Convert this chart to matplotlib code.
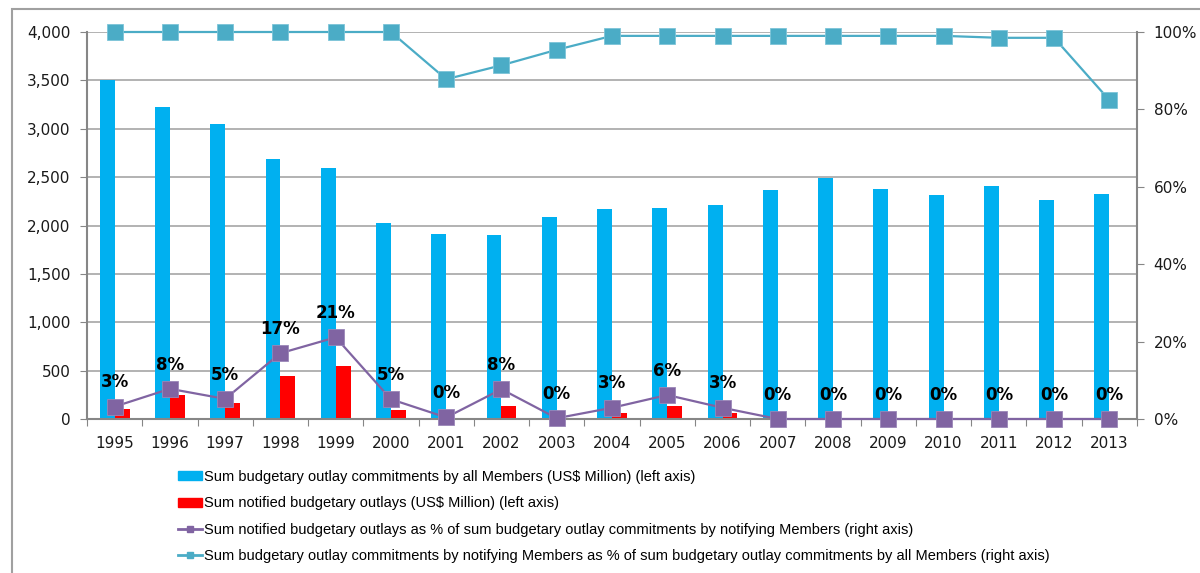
import matplotlib
matplotlib.use("Agg")
import matplotlib.pyplot as plt
import numpy as np
from matplotlib.lines import Line2D
from matplotlib.patches import Patch, Rectangle
from matplotlib.ticker import FuncFormatter, PercentFormatter

years = [str(y) for y in range(1995, 2014)]

# Sum budgetary outlay commitments by all Members (US$ million)
commitments_all = [3500, 3222, 3046, 2684, 2594, 2021, 1907, 1897, 2085, 2175,
                   2181, 2212, 2366, 2490, 2377, 2319, 2407, 2268, 2322]
# Sum notified budgetary outlays (US$ million)
notified_outlays = [100, 248, 162, 448, 545, 96, 0, 131, 0, 62,
                    131, 62, 0, 0, 0, 0, 0, 0, 0]
# Notified outlays as share of commitments by notifying Members
notified_pct = [0.032, 0.078, 0.052, 0.170, 0.211, 0.051, 0.004, 0.077, 0.002, 0.029,
                0.062, 0.029, 0.0, 0.0, 0.0, 0.0, 0.0, 0.0, 0.0]
pct_labels = ["3%", "8%", "5%", "17%", "21%", "5%", "0%", "8%", "0%", "3%",
              "6%", "3%", "0%", "0%", "0%", "0%", "0%", "0%", "0%"]
# Commitments by notifying Members as share of commitments by all Members
notifying_share = [1.0, 1.0, 1.0, 1.0, 1.0, 1.0, 0.878, 0.914, 0.954, 0.990,
                   0.990, 0.990, 0.990, 0.990, 0.990, 0.990, 0.985, 0.985, 0.824]

legend_labels = [
    "Sum budgetary outlay commitments by all Members (US$ Million) (left axis)",
    "Sum notified budgetary outlays (US$ Million) (left axis)",
    "Sum notified budgetary outlays as % of sum budgetary outlay commitments by notifying Members (right axis)",
    "Sum budgetary outlay commitments by notifying Members as % of sum budgetary outlay commitments by all Members (right axis)",
]

BLUE = "#00B0F0"
RED = "#FF0000"
PURPLE = "#8064A2"
TEAL = "#4BACC6"
GRID = "#A6A6A6"
SPINE = "#868686"
TXT = "#1a1a1a"

fig = plt.figure(figsize=(12, 5.73), dpi=100)
ax = fig.add_axes([87 / 1200, 1 - 419 / 573, 1050 / 1200, 387 / 573])
ax2 = ax.twinx()

x = np.arange(len(years))
w = 0.27
ax.bar(x - w / 2, commitments_all, w, color=BLUE, zorder=2)
ax.bar(x + w / 2, notified_outlays, w, color=RED, zorder=2)

ax.set_xlim(-0.5, len(years) - 0.5)
ax.set_ylim(0, 4000)
ax.set_yticks(np.arange(0, 4001, 500))
ax.yaxis.set_major_formatter(FuncFormatter(lambda v, _: f"{v:,.0f}"))
ax.grid(axis="y", color=GRID, lw=1.2, zorder=0)
ax.set_axisbelow(True)

ax.set_xticks(np.arange(-0.5, len(years), 1))
ax.set_xticklabels([])
ax.set_xticks(x, minor=True)
ax.set_xticklabels(years, minor=True)
ax.tick_params(axis="x", which="major", length=5, color=SPINE, direction="out")
ax.tick_params(axis="x", which="minor", length=0, pad=12, labelsize=11, labelcolor=TXT)
ax.tick_params(axis="y", length=5, color=SPINE, pad=7, labelsize=11, labelcolor=TXT)

for s in ["top", "right"]:
    ax.spines[s].set_visible(False)
for s in ["left", "bottom"]:
    ax.spines[s].set_color(SPINE)
    ax.spines[s].set_linewidth(1.5)

ax2.plot(x, notified_pct, color=PURPLE, lw=1.6, marker="s", ms=11,
         mec="#9a86b8", mew=0.6, clip_on=False, zorder=4)
ax2.plot(x, notifying_share, color=TEAL, lw=1.6, marker="s", ms=11,
         mec="#7cc4d8", mew=0.6, clip_on=False, zorder=4)
for xi, yi, lab in zip(x, notified_pct, pct_labels):
    ax2.annotate(lab, (xi, yi), xytext=(0, 17.5), textcoords="offset points",
                 ha="center", va="center", fontsize=12, fontweight="bold", color="black")

ax2.set_ylim(0, 1)
ax2.set_yticks(np.arange(0, 1.01, 0.2))
ax2.yaxis.set_major_formatter(PercentFormatter(1.0, decimals=0))
ax2.tick_params(axis="y", length=5, color=SPINE, pad=7, labelsize=11, labelcolor=TXT)
for s in ["top", "left", "bottom"]:
    ax2.spines[s].set_visible(False)
ax2.spines["right"].set_color(SPINE)
ax2.spines["right"].set_linewidth(1.5)

handles = [
    Patch(color=BLUE),
    Patch(color=RED),
    Line2D([], [], color=PURPLE, lw=2, marker="s", ms=5),
    Line2D([], [], color=TEAL, lw=2, marker="s", ms=5),
]
fig.legend(handles, legend_labels, loc="upper left", bbox_to_anchor=(178 / 1200, 1 - 470 / 573),
           frameon=False, borderpad=0, borderaxespad=0, handlelength=1.65, handleheight=0.55,
           handletextpad=0.1, labelspacing=0.85, prop={"family": "Liberation Sans", "size": 10.5})

# outer chart border
fig.patches.append(Rectangle((12 / 1200, -0.1), 1.2, 1.1 - 9.5 / 573, transform=fig.transFigure,
                             fill=False, ec="#A0A0A0", lw=1.5))

fig.savefig("out.png", dpi=100)
